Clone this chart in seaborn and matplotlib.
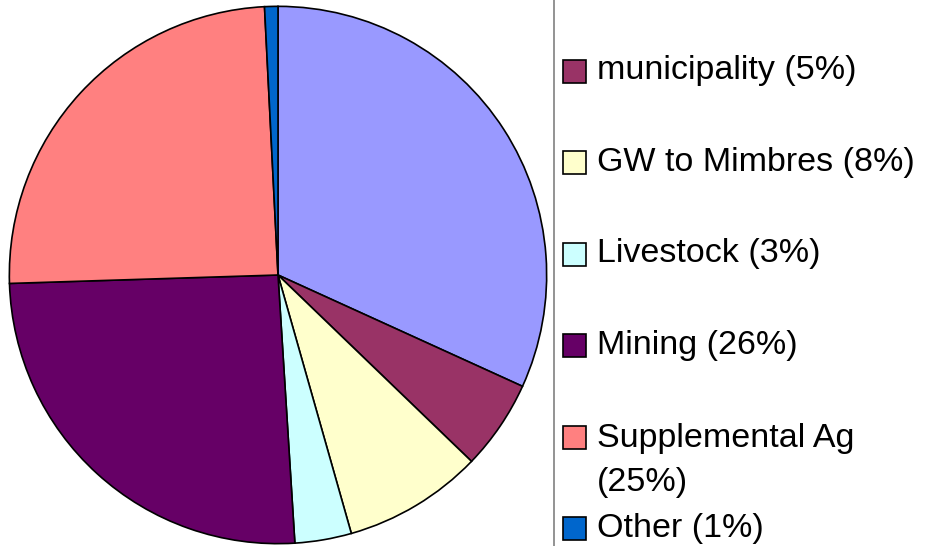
import matplotlib
matplotlib.use("Agg")
import matplotlib.pyplot as plt
from matplotlib.patches import Rectangle
from matplotlib.lines import Line2D
import seaborn as sns

# ---- data ----
categories = ["Surface water", "municipality", "GW to Mimbres", "Livestock",
              "Mining", "Supplemental Ag", "Other"]
values = [31.8, 5.4, 8.4, 3.4, 25.5, 24.7, 0.8]
legend_labels = [None, "municipality (5%)", "GW to Mimbres (8%)", "Livestock (3%)",
                 "Mining (26%)", "Supplemental Ag\n(25%)", "Other (1%)"]
colors = ["#9999FF", "#993366", "#FFFFCC", "#CCFFFF", "#660066", "#FF8080", "#0066CC"]

sns.set_theme(style="white")
plt.rcParams["font.family"] = ["Liberation Sans", "DejaVu Sans"]

W, H = 930, 546
fig = plt.figure(figsize=(W / 100, H / 100), dpi=100)
fig.patch.set_facecolor("white")

# pie axes: centre (278, 275) px from top-left, radius 270 px
cx, cy, r = 278, 275, 270
ax = fig.add_axes([(cx - r) / W, (H - cy - r) / H, 2 * r / W, 2 * r / H])
palette = sns.color_palette(colors)
ax.pie(values, colors=palette, startangle=90, counterclock=False, radius=1.0,
       wedgeprops=dict(edgecolor="black", linewidth=1.2))
ax.set_xlim(-1.005, 1.005)
ax.set_ylim(-1.005, 1.005)
ax.set_aspect("equal")
ax.axis("off")

# legend frame edge (left side)
fig.add_artist(Line2D([554 / W, 554 / W], [0, 1], color="#808080", linewidth=1.2,
                      transform=fig.transFigure))

# legend entries (first entry lies above the visible area)
slot = 91.6
line_step = 46
first_center = 71 - slot
for i, (lab, col) in enumerate(zip(legend_labels, colors)):
    if lab is None:
        continue
    yc = first_center + i * slot  # px from top
    sq = 23
    fig.add_artist(Rectangle(((574 - sq / 2) / W, (H - yc - sq / 2) / H), sq / W, sq / H,
                             facecolor=col, edgecolor="black", linewidth=1.2,
                             transform=fig.transFigure))
    nlines = lab.count("\n") + 1
    ybase = yc + 8 + (nlines - 1) * line_step
    fig.text(597 / W, (H - ybase) / H, lab, fontsize=24.5, va="baseline", ha="left",
             color="black", linespacing=1.55)

fig.savefig("out.png", dpi=100, facecolor="white")
